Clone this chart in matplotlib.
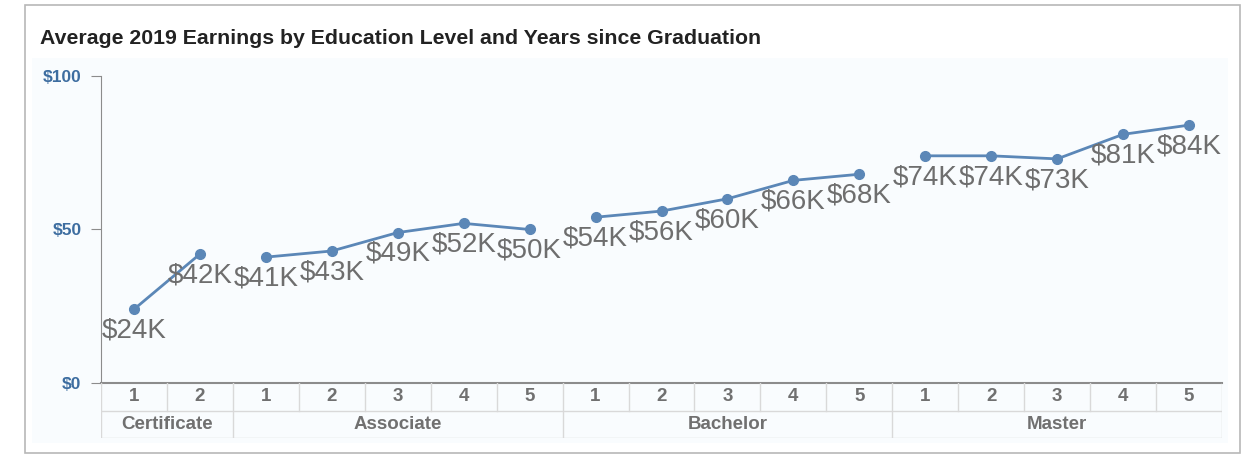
import matplotlib
matplotlib.use("Agg")
import matplotlib.pyplot as plt
from matplotlib.patches import Rectangle

# dados (milhares de dólares)
groups = ["Certificate", "Associate", "Bachelor", "Master"]
years = [[1, 2], [1, 2, 3, 4, 5], [1, 2, 3, 4, 5], [1, 2, 3, 4, 5]]
earnings = [
    [24, 42],
    [41, 43, 49, 52, 50],
    [54, 56, 60, 66, 68],
    [74, 74, 73, 81, 84],
]
yticks = [0, 50, 100]
ytick_labels = ["$0", "$50", "$100"]

W, H = 1243, 457
plt.rcParams['font.family'] = ['Liberation Sans', 'DejaVu Sans']

fig = plt.figure(figsize=(W / 100, H / 100), dpi=100)
fig.patch.set_facecolor("white")

def fx(px):
    return px / W

def fy(py):
    return 1 - py / H

# moldura externa e fundo azul claro
fig.patches.append(Rectangle((fx(25), fy(453)), fx(1240) - fx(25), fy(5) - fy(453),
                             transform=fig.transFigure, facecolor="white",
                             edgecolor="#b8b8b8", linewidth=1.2, zorder=-10))
fig.patches.append(Rectangle((fx(32), fy(443)), fx(1228) - fx(32), fy(58) - fy(443),
                             transform=fig.transFigure, facecolor="#f9fcfe",
                             edgecolor="none", zorder=-9))

fig.text(fx(40), fy(38), "Average 2019 Earnings by Education Level and Years since Graduation",
         fontsize=15.3, fontweight="bold", color="#222222", va="center", ha="left")

# eixo principal
ax = fig.add_axes([fx(101), fy(383), fx(1222) - fx(101), fy(76) - fy(383)])
ax.patch.set_alpha(0)
n = sum(len(y) for y in years)
ax.set_xlim(-0.5, n - 0.5)
ax.set_ylim(0, 100)

line_color = "#5b87b7"
label_color = "#6e6e6e"
pos = 0
for vals in earnings:
    xs = list(range(pos, pos + len(vals)))
    ax.plot(xs, vals, color=line_color, linewidth=2, marker="o", markersize=7,
            markerfacecolor=line_color, markeredgecolor=line_color, zorder=3)
    for x, v in zip(xs, vals):
        ax.annotate(f"${v}K", (x, v), xytext=(0, -6), textcoords="offset points",
                    ha="center", va="top", fontsize=20, color=label_color, zorder=4)
    pos += len(vals)

for s in ["top", "right"]:
    ax.spines[s].set_visible(False)
ax.spines["left"].set_color("#8c8c8c")
ax.spines["bottom"].set_color("#8c8c8c")
ax.spines["bottom"].set_linewidth(1.5)
ax.set_yticks(yticks)
ax.set_yticklabels(ytick_labels, fontsize=12.5, fontweight="bold", color="#3d6da0")
ax.tick_params(axis="y", length=7, color="#8c8c8c", pad=7)
ax.set_xticks([])

# tabela de categorias abaixo do eixo
tax = fig.add_axes([fx(101), fy(438), fx(1222) - fx(101), fy(383) - fy(438)])
tax.set_xlim(-0.5, n - 0.5)
tax.set_ylim(0, 2)
tax.axis("off")
grid_color = "#d9d9d9"
text_color = "#707070"
tax.plot([-0.5, n - 0.5], [1, 1], color=grid_color, lw=1)
tax.plot([-0.5, n - 0.5], [0, 0], color=grid_color, lw=1)
pos = 0
for g, ys in zip(groups, years):
    tax.plot([pos - 0.5, pos - 0.5], [0, 2], color=grid_color, lw=1)
    for i, yv in enumerate(ys):
        if i > 0:
            tax.plot([pos + i - 0.5] * 2, [1, 2], color=grid_color, lw=1)
        tax.text(pos + i, 1.5, str(yv), ha="center", va="center",
                 fontsize=13.5, fontweight="bold", color=text_color)
    tax.text(pos + (len(ys) - 1) / 2, 0.5, g, ha="center", va="center",
             fontsize=13.5, fontweight="bold", color=text_color)
    pos += len(ys)
tax.plot([n - 0.5, n - 0.5], [0, 2], color=grid_color, lw=1)

fig.savefig("out.png", dpi=100, facecolor="white")
